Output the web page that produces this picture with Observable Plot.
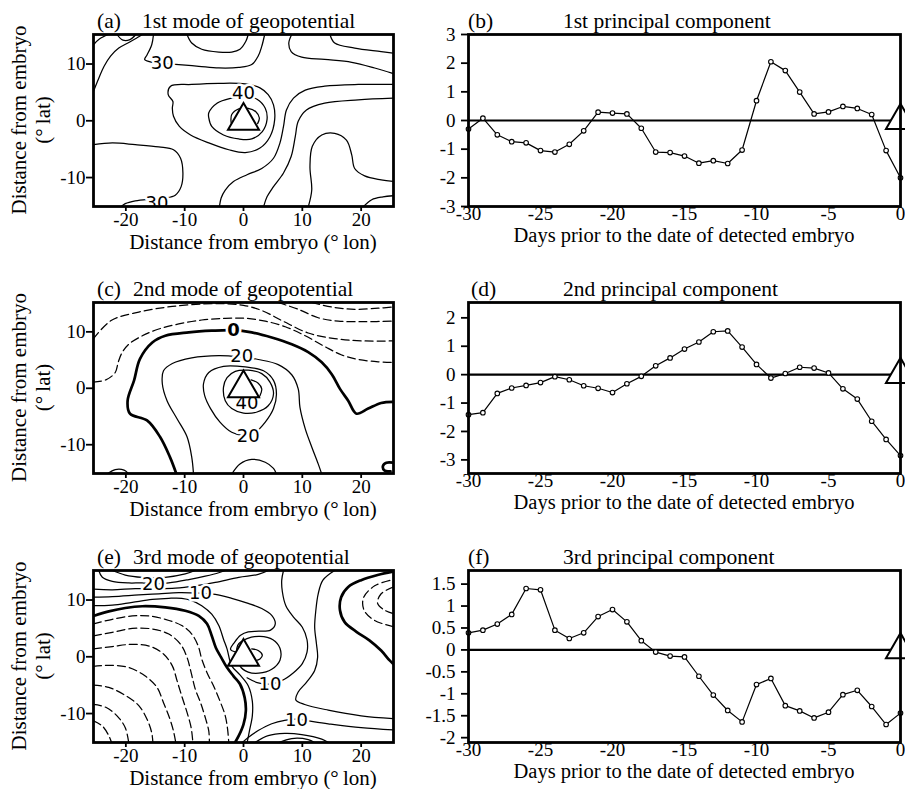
<!DOCTYPE html>
<html><head><meta charset="utf-8">
<script src="https://cdn.jsdelivr.net/npm/d3@7"></script>
<script src="https://cdn.jsdelivr.net/npm/@observablehq/plot@0.6"></script>
<style>
html,body{margin:0;padding:0;background:#fff;overflow:hidden}
#fig{position:relative;width:905px;height:789px;overflow:hidden;background:#fff}
#fig svg, #fig svg text{font-family:'Liberation Serif','Times New Roman',serif}
#fig svg text.cl{font-family:'DejaVu Sans',sans-serif}
</style></head><body><div id="fig"></div>
<script>
// ---------- data ----------
const days = [-30,-29,-28,-27,-26,-25,-24,-23,-22,-21,-20,-19,-18,-17,-16,-15,-14,-13,-12,-11,-10,-9,-8,-7,-6,-5,-4,-3,-2,-1,0];
const pc1 = [-0.3,0.08,-0.5,-0.74,-0.78,-1.05,-1.1,-0.83,-0.36,0.29,0.26,0.23,-0.27,-1.1,-1.12,-1.24,-1.49,-1.4,-1.5,-1.03,0.69,2.05,1.74,0.99,0.23,0.3,0.49,0.42,0.21,-1.05,-2.0];
const pc2 = [-1.41,-1.34,-0.66,-0.47,-0.38,-0.28,-0.07,-0.18,-0.39,-0.48,-0.63,-0.32,-0.06,0.31,0.59,0.9,1.15,1.51,1.54,0.97,0.36,-0.12,0.04,0.26,0.23,0.06,-0.5,-0.86,-1.64,-2.28,-2.85];
const pc3 = [0.39,0.45,0.59,0.81,1.40,1.37,0.45,0.26,0.39,0.76,0.92,0.64,0.21,-0.05,-0.14,-0.16,-0.6,-1.03,-1.38,-1.64,-0.79,-0.65,-1.27,-1.39,-1.55,-1.42,-1.02,-0.92,-1.29,-1.7,-1.44];

const dayTicks = [-30,-25,-20,-15,-10,-5,0];
const pc1Ticks = [-3,-2,-1,0,1,2,3];
const pc2Ticks = [-3,-2,-1,0,1,2];
const pc3Ticks = [-2,-1.5,-1,-0.5,0,0.5,1,1.5];
const pc1Domain = [-3,3];
const pc2Domain = [-3.48,2.54];
const pc3Domain = [-2.11,1.81];
const lonTicks = [-20,-10,0,10,20];
const latTicks = [-10,0,10];
const lonDomain = [-25.5,25.5];
const latDomain = [-15.1,15.2];

const panelLetters = ["(a)","(c)","(e)"];
const modeTitles = ["1st mode of geopotential","2nd mode of geopotential","3rd mode of geopotential"];
const pcLetters = ["(b)","(d)","(f)"];
const pcTitles = ["1st principal component","2nd principal component","3rd principal component"];
const lonLabel = "Distance from embryo (\u00B0\u2009lon)";
const latLabel1 = "Distance from embryo";
const latLabel2 = "(\u00B0\u2009lat)";
const dayLabel = "Days prior to the date of detected embryo";

// contour lines of the 1st mode (lon, lat)
const mode1Contours = [
  {level:25, pts:[[-25.5,13.4],[-24.5,14.4],[-23,15.2]]},
  {level:25, pts:[[-21.5,15.2],[-20.5,14.2],[-19.3,14.3],[-18.3,15.2]]},
  {level:30, pts:[[-25.5,5.2],[-24.6,7.5],[-23.7,9.6],[-22.6,11.4],[-21.2,12.8],[-19.5,13.8],[-17.8,14.8],[-17.2,15.2]]},
  {level:30, pts:[[-15.3,15.2],[-15.6,13.4],[-16.4,11.6],[-16.8,10.8],[-15.5,10.3],[-13.3,10.1],[-11,9.9],[-7.6,9.6],[-4.2,9.3],[-0.8,9.4],[1.4,9.9],[2.5,11.4],[3.1,13.1],[3.6,15.2]]},
  {level:35, pts:[[-9.6,15.2],[-8.8,13.7],[-7.1,12.6],[-4.2,12.1],[-2,12.1],[-0.6,12.6],[0.4,14],[0.8,15.2]]},
  {level:30, pts:[[8.2,15.2],[7.7,13.7],[8.1,12.2],[9.9,11.2],[13.8,10.8],[18.4,10.3],[22.3,9.3],[25.5,8.3]]},
  {level:25, pts:[[14.7,15.2],[15.5,13.7],[18.9,12.8],[23.4,12.2],[25.5,11.9]]},
  {level:35, closed:true, pts:[[-12.4,6.1],[-8.8,6.4],[-4.2,6.6],[0.3,6.5],[2.8,5.8],[4.2,4.6],[5.1,2.8],[5.3,0.2],[4.5,-2.8],[2.8,-4.8],[0.3,-5.6],[-2.5,-5.1],[-5.9,-3.9],[-9,-2.5],[-10.9,-1],[-11.9,0.8],[-12.1,2.2],[-12,3.4],[-12.8,4.6]]},
  {level:40, closed:true, pts:[[-5.9,1.4],[-4.5,3.1],[-2,4],[0,4.3],[2.3,3.8],[3.7,2.2],[4,0.2],[3.2,-1.9],[1.4,-3.2],[-0.8,-3.2],[-3.4,-2.5],[-5.4,-1],[-5.9,0.5]]},
  {level:45, pts:[[-2.1,-0.4],[-2,1.1],[-0.8,2.1],[0.8,2.2],[2.1,1.6],[2.7,0.5],[2.4,-0.5]]},
  {level:30, pts:[[-25.5,-4.2],[-22.3,-3.9],[-18.4,-4.2],[-14.4,-4.6],[-11.9,-5.1],[-10.7,-6.6],[-10.3,-9.2],[-10.6,-11.6],[-11.6,-13.1],[-13.3,-13.6],[-16.1,-13.8],[-18.4,-14.1],[-20.1,-14.6],[-20.9,-15.2]]},
  {level:30, pts:[[25.5,6.4],[19.5,6.4],[13.8,6.1],[10.5,5.4],[8.5,4],[7.3,1.9],[6.8,-1],[6.2,-3.9],[5.1,-6.6],[3.1,-8.4],[0.6,-9.5],[-1.7,-10.7],[-3.1,-12.2],[-3.8,-13.6],[-4.1,-15.2]]},
  {level:25, pts:[[25.5,4],[19.5,3.7],[13.8,3.1],[10.7,1.9],[9.3,-0.1],[8.8,-2.8],[8.1,-6.3],[6.8,-9.2],[5.1,-11.6],[4,-13.4],[3.4,-15.2]]},
  {level:20, pts:[[11,-15.2],[11.6,-12.2],[11.3,-8.1],[11.7,-4.5],[13.3,-2.5],[15.5,-2.2],[17.5,-3.4],[18.4,-6],[18.9,-8.4],[20.6,-9.7],[23.4,-10.4],[25.5,-10.7]]},
  {level:15, pts:[[20.3,-15.2],[21.8,-13.9],[23.7,-13.4],[25.5,-13.2]]}
];
const mode1Labels = [
  {text:"30", lon:-13.8, lat:10.2},
  {text:"40", lon:0, lat:4.8},
  {text:"30", lon:-14.7, lat:-14.6}
];

// contour lines of the 2nd mode
const mode2Contours = [
  {level:0, pts:[[-11.4,-15.2],[-12.5,-12.2],[-14.2,-8.6],[-16.4,-5.7],[-19.3,-4.5],[-19.7,-2.2],[-18.6,1.4],[-17.6,5.2],[-15.5,8.1],[-13.3,9.3],[-9.3,9.9],[-5.4,10.2],[-1.7,10.3],[1.4,9.9],[4.8,9],[8.2,7.8],[11,6.4],[13.3,4.6],[15,2.5],[16.4,-0.1],[17.8,-2.2],[19.2,-4.5],[21.2,-3.6],[23.4,-2.6],[25.5,-2.4]]},
  {level:0, pts:[[25.5,-13.2],[24.3,-13.2],[23.7,-13.8],[24,-14.6],[25,-14.7]]},
  {level:-10, pts:[[-25.5,1.1],[-23.4,1.5],[-21.8,2.8],[-21.3,4.6],[-20.7,6.2],[-19.5,7.8],[-17.2,9.3],[-14.4,10.5],[-11,11.4],[-7.1,12.1],[-3.1,12.4],[0.3,12.4],[3.7,11.9],[7.1,10.9],[10.5,9.3],[13.8,7.4],[16.7,5.9],[19.5,5.1],[22.9,4.7],[25.5,4.6]]},
  {level:-20, pts:[[-25.5,8.8],[-22.5,12],[-17.8,13.5],[-12.1,14.5],[-5,15],[0,14.7],[3.3,13.7],[6.7,11.9],[11,9.8],[15.5,8.8],[20,8.4],[25.5,8.4]]},
  {level:-30, pts:[[5.9,15.2],[9.3,14],[12.7,12.5],[16.1,11.9],[20.6,11.8],[25.5,11.9]]},
  {level:-40, pts:[[11.6,15.2],[15,14.4],[18.9,14],[22.9,14.2],[25.5,14.4]]},
  {level:10, pts:[[-8.5,-15.2],[-8.8,-12.2],[-9.6,-8.6],[-11.3,-5.4],[-13,-2.2],[-13.8,0.8],[-13.6,3.1],[-12.1,4.4],[-8.8,5.4],[-4.2,5.8],[-0.8,5.6],[2.5,5.1],[5.9,4.2],[8.2,2.4],[9.3,-0.1],[9.6,-3.4],[10.5,-7.2],[11.6,-10.4],[12.7,-13.4],[13.3,-15.2]]},
  {level:20, closed:true, pts:[[-6.8,0.8],[-5.9,2.8],[-3.4,3.9],[0.3,3.8],[3.4,3.1],[5.1,1.4],[5.6,-1],[5.1,-3.6],[3.7,-6],[2,-7.8],[0.3,-8.4],[-2,-7.8],[-4,-6],[-5.6,-3.6],[-6.6,-1.3]]},
  {level:30, closed:true, pts:[[-3.4,0.2],[-2.8,1.9],[-1.4,3],[0.8,3.2],[3.1,2.6],[4.5,1.1],[5.1,-1],[4.2,-3.1],[2.3,-4.2],[0,-4.4],[-2,-3.6],[-3.1,-2.2]]},
  {level:40, pts:[[1.3,1.5],[2.5,0.9],[3.1,-0.1],[2.8,-1.3],[2.3,-2.2]]},
  {level:10, pts:[[-2,-15.2],[-0.6,-13.4],[1.4,-12.6],[3.7,-13.1],[5.1,-14.2],[5.6,-15.2]]},
  {level:10, pts:[[-23.2,-15.2],[-21.8,-14.4],[-20.3,-14.5],[-19.5,-15.2]]}
];
const mode2Labels = [
  {text:"0", lon:-1.7, lat:10.3, bold:true},
  {text:"20", lon:-0.3, lat:5.6},
  {text:"40", lon:0.6, lat:-2.6},
  {text:"20", lon:0.8, lat:-8.5}
];

// contour lines of the 3rd mode
const mode3Contours = [
  {level:0, pts:[[-25.5,7.2],[-22.9,8],[-20.1,8.6],[-17.2,8.9],[-13.3,8.7],[-9.9,8.1],[-7.6,7.2],[-6.2,5.8],[-5.4,3.7],[-4.7,1.6],[-3.8,-0.1],[-2.8,-1.9],[-1.7,-3.4],[-0.6,-4.8],[0.2,-7.2],[0.4,-9.5],[0,-11.9],[-0.8,-13.9],[-1.5,-15.2]]},
  {level:0, pts:[[25.5,-1.3],[24.8,-0.6],[23.4,1.1],[21.4,2.9],[19.2,4.4],[17.2,6.1],[16.4,8.2],[16.6,10.5],[17.8,12.3],[20,13.5],[22.8,14.4],[25.5,15]]},
  {level:-10, pts:[[25.5,5.3],[22.3,6.4],[20.5,8.2],[20.4,10.4],[22.3,12.5],[25.5,13.6]]},
  {level:-20, pts:[[25.5,12.3],[23.4,11.1],[22.8,9.4],[24,8.2],[25.5,7.6]]},
  {level:30, pts:[[-22.3,15.2],[-20.1,14.4],[-17.2,14],[-13.3,14],[-9.9,14.6],[-8.2,15.2]]},
  {level:20, pts:[[-24.6,15.2],[-24,14],[-22.3,13.3],[-19.5,13],[-17.2,13],[-15.3,12.8],[-12.7,13],[-9.3,13.6],[-6.5,14.2],[-4.2,14.8],[-3.1,15.2]]},
  {level:15, pts:[[-25.5,11.9],[-22.3,11.8],[-18.4,12],[-15,12],[-11.6,12.1],[-8.2,12.5],[-4.8,13.1],[-0.8,14],[2.5,14.5],[4.2,15.2]]},
  {level:10, pts:[[-25.5,10.5],[-22.3,10.6],[-17.8,10.9],[-14.4,11.1],[-11,11.3],[-7.3,11.2],[-4.8,11],[-2,10.3],[0.8,9.4],[3.1,8.5],[4.8,7.3],[5.4,5.8],[4.6,4.7],[2.6,4.5],[0.8,4.4],[-0.5,3.8],[-1.5,2.6],[-2.2,1.3],[-1.2,0.8]]},
  {level:5, pts:[[-25.5,9],[-22.3,9.1],[-18.9,9.6],[-15.5,10.1],[-12.7,10.3],[-10.5,10.3],[-8.8,9.9],[-7.1,9],[-5.4,7.5],[-4.2,5.5],[-3.4,3.1],[-2.8,1.4],[-2,-1.6],[-0.6,-3.2],[0.8,-5.1],[1.5,-7.8],[1.5,-10.4],[1,-13.1],[0.6,-15.2]]},
  {level:15, closed:true, pts:[[-1,2],[0.6,3.2],[2.8,3.6],[5,3],[6.2,1.5],[6.2,-0.6],[4.8,-2.2],[2.6,-2.9],[0.8,-2.7],[-0.6,-1.6]]},
  {level:20, pts:[[1.4,1.4],[2.5,1.1],[3.2,0.3],[2.8,-0.4],[2,-0.7]]},
  {level:10, pts:[[0.6,-3.7],[2.5,-4.6],[4.5,-4.8],[6.5,-4.2],[8.5,-2.8],[10,-1.2],[10.8,0.8],[10.8,3],[10,5.2],[8.5,7],[7.2,9],[6.6,11.5],[6.5,13.5],[6.8,15.2]]},
  {level:10, pts:[[15.5,15.2],[13.5,13.5],[12.7,11.1],[12.3,8.2],[12.1,5.2],[12.4,2.3],[12.6,-0.1],[12.1,-2.4],[10.7,-4.5],[9.3,-6.2],[8.9,-7.6],[10.4,-8.4],[14.4,-9.4],[20,-10.4],[25.5,-10.9]]},
  {level:10, pts:[[-0.3,-15.2],[0.8,-14.2],[2.5,-13],[4.8,-11.8],[7,-11.2],[9,-11],[11,-11.3],[14.4,-11.8],[20,-12.5],[25.5,-12.9]]},
  {level:15, pts:[[1.8,-15.2],[4.2,-13.9],[7,-13.5],[9.9,-13.7],[13.3,-14.5],[14.6,-15.2]]},
  {level:20, pts:[[5.8,-15.2],[8.2,-14.4],[11,-14.6],[12.2,-15.2]]},
  {level:-10, pts:[[-25.5,5.8],[-22.3,6.6],[-18.9,7.2],[-16.1,7.2],[-13.3,6.6],[-10.5,5.5],[-8.8,4],[-7.7,1.9],[-7.1,-0.4],[-6.2,-2.8],[-5.1,-5.1],[-4,-7.8],[-3.1,-10.4],[-2.7,-12.8],[-2.5,-15.2]]},
  {level:-20, pts:[[-25.5,3.7],[-22.3,4.3],[-18.9,5],[-15.5,4.9],[-12.7,4],[-10.7,2.2],[-9.6,-0.1],[-8.9,-2.8],[-8.2,-5.7],[-7.3,-8.1],[-6.5,-10.7],[-5.9,-13.1],[-5.8,-15.2]]},
  {level:-30, pts:[[-25.5,1.4],[-22.3,1.8],[-18.9,2.2],[-15.8,1.8],[-13.6,0.5],[-12.1,-1.6],[-11.3,-4.2],[-10.5,-6.9],[-9.6,-9.8],[-8.9,-12.5],[-8.6,-15.2]]},
  {level:-40, pts:[[-25.5,-1.7],[-22.3,-1.5],[-19.5,-1.9],[-16.7,-3.4],[-14.7,-5.4],[-13.6,-8.1],[-12.6,-10.7],[-11.9,-13.1],[-11.5,-15.2]]},
  {level:-50, pts:[[-25.5,-5],[-22.9,-5.4],[-20.1,-6.8],[-17.8,-8.6],[-16.4,-11],[-15.6,-13.4],[-15.4,-15.2]]},
  {level:-60, pts:[[-25.5,-8.4],[-23.4,-8.9],[-21.5,-10.4],[-20.1,-12.5],[-19.5,-15.2]]},
  {level:-70, pts:[[-25.5,-11.3],[-24,-12.2],[-22.9,-13.9],[-22.4,-15.2]]}
];
const mode3Labels = [
  {text:"20", lon:-15.3, lat:12.8},
  {text:"10", lon:-7.3, lat:11.2},
  {text:"10", lon:4.5, lat:-4.8},
  {text:"10", lon:9, lat:-11.1}
];

const embryo = [{lon:0, lat:0}];
const embryoDay = [{day:0, v:0}];

// ---------- drawing ----------
const fig = document.getElementById("fig");
const rowsPos = [{T:34,B:206},{T:302,B:473},{T:570,B:742}];
const serif = "'Liberation Serif','Times New Roman',serif";

function finishSvg(svg, left, top) {
  svg.setAttribute("font-family", serif);
  svg.setAttribute("font-size", "19");
  svg.style.fontFamily = serif;
  svg.style.fontSize = "19px";
  svg.style.background = "transparent";
  svg.style.overflow = "visible";
  svg.style.position = "absolute";
  svg.style.left = left + "px";
  svg.style.top = top + "px";
  svg.style.maxWidth = "none";
  fig.appendChild(svg);
}

function contourMarks(list) {
  const rows = [];
  list.forEach((c, i) => c.pts.forEach(([lon, lat]) => rows.push({id:i, lon, lat, level:c.level, closed:!!c.closed})));
  const groups = [
    {f: r => r.level > 0, sw: 1.25},
    {f: r => r.level === 0, sw: 2.7},
    {f: r => r.level < 0, sw: 1.25, dash: "8,4"}
  ];
  const marks = [];
  for (const g of groups) for (const closed of [false, true]) {
    const data = rows.filter(r => g.f(r) && r.closed === closed);
    if (!data.length) continue;
    const o = {x:"lon", y:"lat", z:"id", stroke:"black", strokeWidth:g.sw, curve: closed ? "catmull-rom-closed" : "catmull-rom", clip:true};
    if (g.dash) o.strokeDasharray = g.dash;
    marks.push(Plot.line(data, o));
  }
  return marks;
}

function leftPanel(contours, labels, row) {
  const {T, B} = rowsPos[row];
  const h = B - T;
  const svg = Plot.plot({
    width: 420, height: h + 8 + 40,
    marginLeft: 93, marginRight: 27, marginTop: 8, marginBottom: 40,
    x: {domain: lonDomain}, y: {domain: latDomain},
    marks: [
      ...contourMarks(contours),
      Plot.text(labels.filter(d => !d.bold), {x:"lon", y:"lat", text:"text", className:"cl", fontFamily:"DejaVu Sans", fontSize:18, fill:"black", stroke:"white", strokeWidth:5, clip:true}),
      Plot.text(labels.filter(d => d.bold), {x:"lon", y:"lat", text:"text", className:"cl", fontFamily:"DejaVu Sans", fontSize:18, fontWeight:"bold", fill:"black", stroke:"white", strokeWidth:5, clip:true}),
      Plot.dot(embryo, {x:"lon", y:"lat", symbol:"triangle", r:11.5, fill:"white", stroke:"black", strokeWidth:2}),
      Plot.axisX({ticks: lonTicks, tickSize: 5, tickPadding: 1, strokeWidth: 1.8, tickFormat: d => String(d), label: null}),
      Plot.axisY({ticks: latTicks, tickSize: 7, tickPadding: 1, strokeWidth: 1.8, tickFormat: d => String(d), label: null}),
      Plot.frame({strokeWidth: 2.8})
    ]
  });
  finishSvg(svg, 0, T - 8);
  svg.querySelectorAll("g[aria-label='text'] text").forEach(t => t.classList.add("cl"));
}

function rightPanel(values, yDomain, yTicks, row) {
  const {T, B} = rowsPos[row];
  const h = B - T;
  const data = days.map((d, i) => ({day:d, v:values[i]}));
  const svg = Plot.plot({
    width: 495, height: h + 8 + 40,
    marginLeft: 58, marginRight: 5, marginTop: 8, marginBottom: 40,
    x: {domain: [-30, 0]}, y: {domain: yDomain},
    marks: [
      Plot.ruleY([0], {strokeWidth: 2.2}),
      Plot.line(data, {x:"day", y:"v", stroke:"black", strokeWidth:1.2}),
      Plot.dot(data, {x:"day", y:"v", r:2.3, fill:"white", stroke:"black", strokeWidth:1.1}),
      Plot.dot(embryoDay, {x:"day", y:"v", symbol:"triangle", r:10.8, fill:"white", stroke:"black", strokeWidth:2}),
      Plot.axisX({ticks: dayTicks, tickSize: 0, tickPadding: 0, tickFormat: d => String(d), label: null}),
      Plot.axisY({ticks: yTicks, tickSize: 7, tickPadding: 6, strokeWidth: 1.8, tickFormat: d => String(d), label: null}),
      Plot.frame({strokeWidth: 2.8})
    ]
  });
  finishSvg(svg, 410, T - 8);
}

leftPanel(mode1Contours, mode1Labels, 0);
leftPanel(mode2Contours, mode2Labels, 1);
leftPanel(mode3Contours, mode3Labels, 2);
rightPanel(pc1, pc1Domain, pc1Ticks, 0);
rightPanel(pc2, pc2Domain, pc2Ticks, 1);
rightPanel(pc3, pc3Domain, pc3Ticks, 2);

// titles and axis labels
const ov = d3.select(fig).append("svg")
  .attr("width", 905).attr("height", 789)
  .style("position", "absolute").style("left", "0px").style("top", "0px")
  .style("pointer-events", "none")
  .attr("font-family", serif).attr("fill", "black");
function txt(x, y, s, size, anchor, rotate) {
  const t = ov.append("text").attr("font-size", size).attr("text-anchor", anchor || "start").text(s);
  if (rotate) t.attr("transform", `translate(${x},${y}) rotate(-90)`);
  else t.attr("x", x).attr("y", y);
}
const leftTitleX = [142, 133, 133];
const rightLetterX = [468, 471, 468];
rowsPos.forEach(({T, B}, r) => {
  txt(97, T - 6, panelLetters[r], 21.5);
  txt(leftTitleX[r], T - 6, modeTitles[r], 21.5);
  txt(rightLetterX[r], T - 6, pcLetters[r], 21.5);
  txt(563, T - 6, pcTitles[r], 21.5);
  txt(253, B + 42.5, lonLabel, 21, "middle");
  txt(684, B + 36, dayLabel, 20.5, "middle");
  const cy = (T + B) / 2;
  txt(26, cy, latLabel1, 21, "middle", true);
  txt(50, cy, latLabel2, 21, "middle", true);
});
</script></body></html>
